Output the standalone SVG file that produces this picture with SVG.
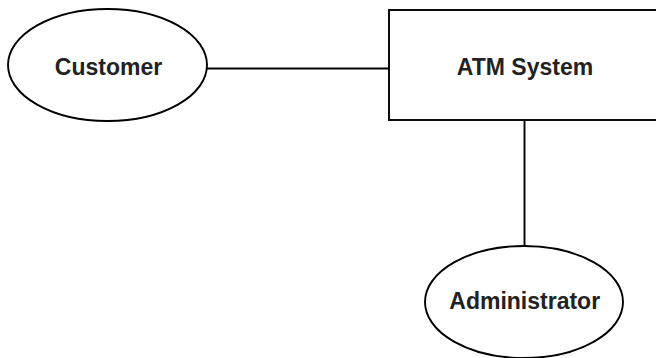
<svg xmlns="http://www.w3.org/2000/svg" width="656" height="358" viewBox="0 0 656 358">
<style>
.shape{fill:#fff;stroke:#000;stroke-width:1.9}
.conn{stroke:#000;stroke-width:1.9;fill:none}
.lbl{font-family:"Liberation Sans",Arial,sans-serif;font-size:23px;font-weight:bold;fill:#222;text-anchor:middle}
</style>
<rect width="656" height="358" fill="#fff"/>
<g id="connectors">
<line class="conn" x1="207" y1="68.5" x2="389" y2="68.5"/>
<line class="conn" x1="524.5" y1="120" x2="524.5" y2="246"/>
</g>
<g id="customer">
<ellipse class="shape" cx="107.5" cy="65" rx="99.5" ry="56"/>
<text class="lbl" x="108.5" y="74.5">Customer</text>
</g>
<g id="atm-system">
<rect class="shape" x="389" y="10" width="280" height="110"/>
<text class="lbl" x="525" y="74.5">ATM System</text>
</g>
<g id="administrator">
<ellipse class="shape" cx="524" cy="302" rx="99" ry="56"/>
<text class="lbl" x="524.7" y="308.5">Administrator</text>
</g>
</svg>
